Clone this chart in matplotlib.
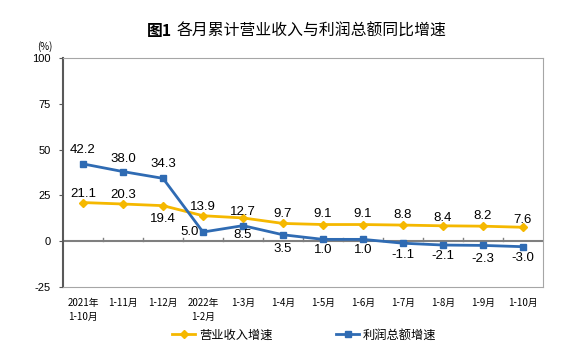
import matplotlib
matplotlib.use("Agg")
import matplotlib.pyplot as plt

plt.rcParams['font.family'] = ['Noto Sans CJK SC', 'DejaVu Sans']
plt.rcParams['axes.unicode_minus'] = False

# ── Data ────────────────────────────────────────────────────────────────────
MONTHS = ["2021年\n1-10月", "1-11月", "1-12月", "2022年\n1-2月", "1-3月", "1-4月",
          "1-5月", "1-6月", "1-7月", "1-8月", "1-9月", "1-10月"]
REVENUE = [21.1, 20.3, 19.4, 13.9, 12.7, 9.7, 9.1, 9.1, 8.8, 8.4, 8.2, 7.6]
PROFIT = [42.2, 38.0, 34.3, 5.0, 8.5, 3.5, 1.0, 1.0, -1.1, -2.1, -2.3, -3.0]

# label placement: (dx, dy) in points
REV_OFFSETS = [(0, 6.5), (0, 6.5), (0, -9.5), (0, 6.5), (0, 4.5), (0, 7),
               (0, 7.5), (0, 7.5), (0, 7), (0, 5.5), (0, 7), (0, 5)]
PROF_OFFSETS = [(0, 10), (0, 9), (0, 10.5), (-10, 0), (0, -7), (0, -10.5),
                (0, -8), (0, -8), (0, -8.2), (0, -7.8), (0, -9.6), (0, -7.8)]

YELLOW = "#F5B800"
BLUE = "#2F6BB3"
NUM_FONT = ["Liberation Sans", "DejaVu Sans"]

fig = plt.figure(figsize=(5.75, 3.57), dpi=100)
ax = fig.add_axes([63 / 575, 1 - 287 / 357, 480 / 575, 229 / 357])

x = list(range(len(MONTHS)))
ax.plot(x, REVENUE, color=YELLOW, lw=2, marker="D", ms=4, label="营业收入增速", zorder=3)
ax.plot(x, PROFIT, color=BLUE, lw=2, marker="s", ms=4, label="利润总额增速", zorder=3)

for xi, v, (dx, dy) in zip(x, REVENUE, REV_OFFSETS):
    ax.annotate(f"{v:.1f}", (xi, v), xytext=(dx, dy), textcoords="offset points",
                ha="center", va="center", fontsize=9.5, family=NUM_FONT)
for xi, v, (dx, dy) in zip(x, PROFIT, PROF_OFFSETS):
    ax.annotate(f"{v:.1f}", (xi, v), xytext=(dx, dy), textcoords="offset points",
                ha="center", va="center", fontsize=9.5, family=NUM_FONT)

# zero line with category boundary ticks
ax.axhline(0, color="#7F7F7F", lw=1.5, zorder=1)
for b in range(1, len(MONTHS)):
    ax.plot([b - 0.5, b - 0.5], [0, 1.5], color="#7F7F7F", lw=1, zorder=1)

ax.set_xlim(-0.5, len(MONTHS) - 0.5)
ax.set_ylim(-25, 100)
ax.set_yticks([-25, 0, 25, 50, 75, 100])
ax.tick_params(axis="y", labelsize=8, length=3, color="#595959", pad=6)
for lbl in ax.get_yticklabels():
    lbl.set_family(NUM_FONT)
ax.set_xticks(x)
ax.set_xticklabels(MONTHS, fontsize=7, linespacing=1.5)
ax.tick_params(axis="x", length=0, pad=8)
for lbl in ax.get_xticklabels():
    lbl.set_verticalalignment("top")

for side in ["top", "right", "bottom"]:
    ax.spines[side].set_color("#A6A6A6")
    ax.spines[side].set_linewidth(0.8)
ax.spines["left"].set_color("#595959")
ax.spines["left"].set_linewidth(1.5)

fig.text(45 / 575, 1 - 47 / 357, "(%)", fontsize=7, ha="center", va="center")
fig.text(147 / 575, 1 - 31 / 357, "图1", fontsize=11.4, ha="left", va="center",
         fontweight="bold")
fig.text(177 / 575, 1 - 31 / 357, "各月累计营业收入与利润总额同比增速",
         fontsize=11.4, ha="left", va="center")

fig.legend(loc="center", bbox_to_anchor=(0.529, 1 - 335 / 357), ncol=2, frameon=False,
           fontsize=8.8, handlelength=1.9, handletextpad=0.3, columnspacing=5.2)

fig.savefig("out.png", dpi=100, facecolor="white")
